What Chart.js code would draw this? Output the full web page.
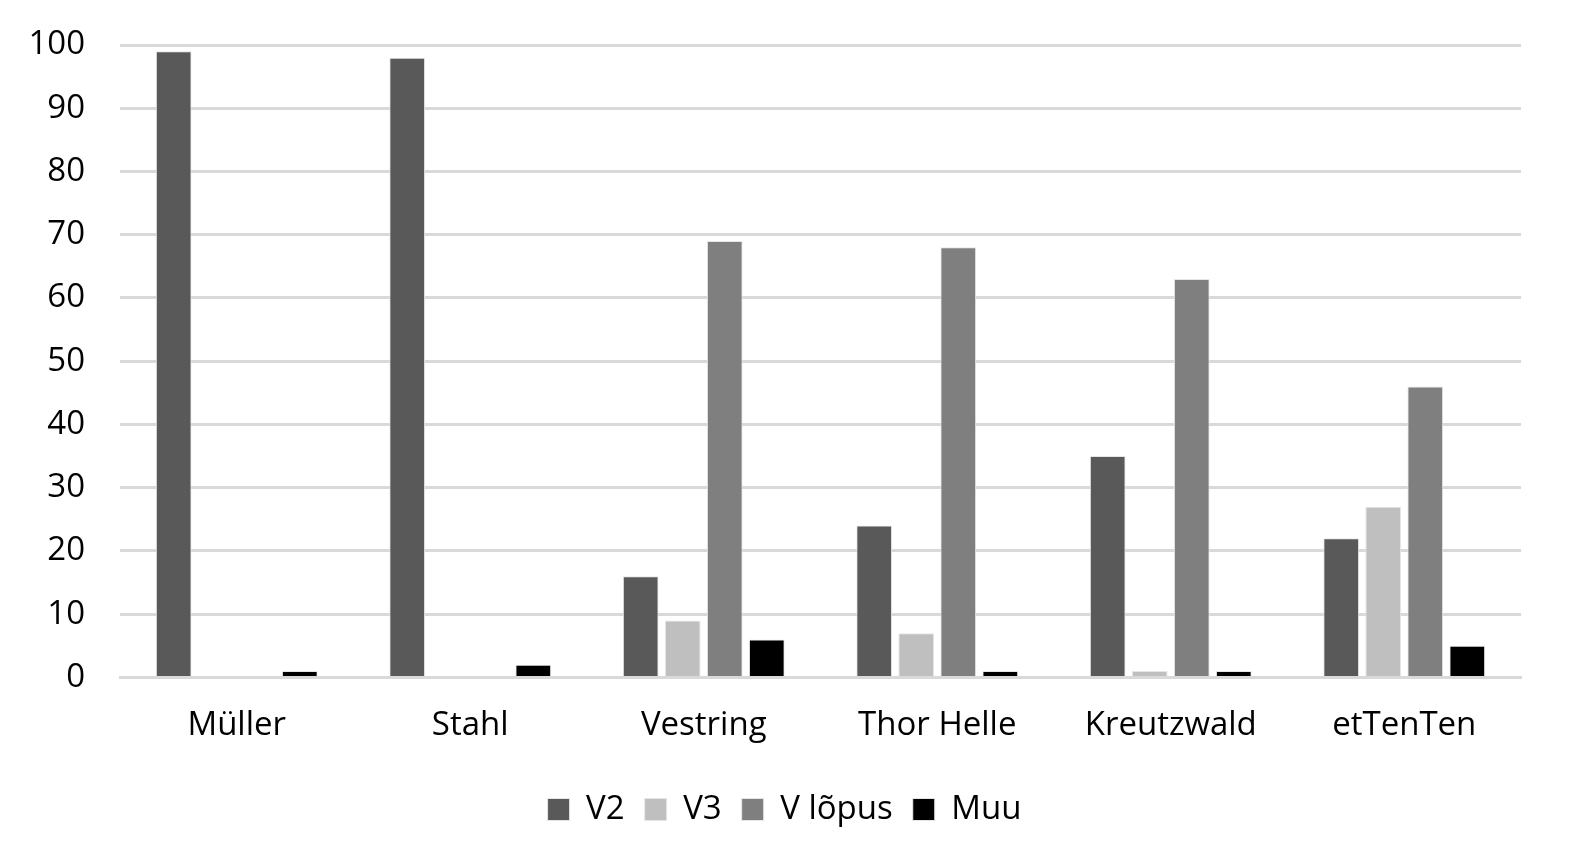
<!DOCTYPE html>
<html>
<head>
<meta charset="utf-8">
<script src="https://cdn.jsdelivr.net/npm/chart.js@4"></script>
<style>
  html, body { margin: 0; padding: 0; background: #fff; }
  #wrap { width: 1569px; height: 851px; }
</style>
</head>
<body>
<div id="wrap"><canvas id="chart"></canvas></div>
<script>
// Chart data
const categories = ['Müller', 'Stahl', 'Vestring', 'Thor Helle', 'Kreutzwald', 'etTenTen'];
const seriesNames = ['V2', 'V3', 'V lõpus', 'Muu'];
const v2Values = [99, 98, 16, 24, 35, 22];
const v3Values = [0, 0, 9, 7, 1, 27];
const vLopusValues = [0, 0, 69, 68, 63, 46];
const muuValues = [1, 2, 6, 1, 1, 5];
const yTicks = [0, 10, 20, 30, 40, 50, 60, 70, 80, 90, 100];

const seriesColors = ['#595959', '#bfbfbf', '#7f7f7f', '#000000'];
const allValues = [v2Values, v3Values, vLopusValues, muuValues];

const fontFamily = "'Open Sans', 'Liberation Sans', sans-serif";

const ctx = document.getElementById('chart').getContext('2d');
new Chart(ctx, {
    type: 'bar',
    data: {
        labels: categories,
        datasets: seriesNames.map((name, i) => ({
            label: name,
            data: allValues[i],
            backgroundColor: seriesColors[i],
            borderColor: '#e6e6e6',
            borderWidth: 1,
            categoryPercentage: 0.72,
            barPercentage: 0.85
        }))
    },
    options: {
        responsive: true,
        maintainAspectRatio: false,
        animation: false,
        layout: { padding: { top: 45, left: 0, right: 0, bottom: 15 } },
        scales: {
            x: {
                grid: { display: false, drawTicks: false, tickLength: 0 },
                border: { color: '#d9d9d9', width: 3 },
                ticks: {
                    color: '#000',
                    font: { family: fontFamily, size: 33 },
                    padding: 28
                }
            },
            y: {
                min: 0,
                max: 100,
                afterBuildTicks: axis => { axis.ticks = yTicks.map(v => ({ value: v })); },
                grid: { color: '#d9d9d9', lineWidth: 3, drawTicks: false, tickLength: 0 },
                border: { display: false },
                ticks: {
                    color: '#000',
                    font: { family: fontFamily, size: 33 },
                    padding: 35
                },
                afterFit: scale => {
                    scale.width = 120;
                    scale.paddingTop = 0;
                    scale.paddingBottom = 0;
                }
            },
            // empty right-hand axis, only keeps the right margin
            yRight: {
                position: 'right',
                min: 0,
                max: 100,
                grid: { drawOnChartArea: false, drawTicks: false },
                border: { display: false },
                ticks: { display: false },
                afterFit: scale => { scale.width = 48; }
            }
        },
        plugins: {
            legend: {
                position: 'bottom',
                labels: {
                    color: '#000',
                    font: { family: fontFamily, size: 33 },
                    boxWidth: 22,
                    boxHeight: 22,
                    padding: 20,
                    useBorderRadius: false
                }
            },
            tooltip: { enabled: false }
        }
    }
});
</script>
</body>
</html>
